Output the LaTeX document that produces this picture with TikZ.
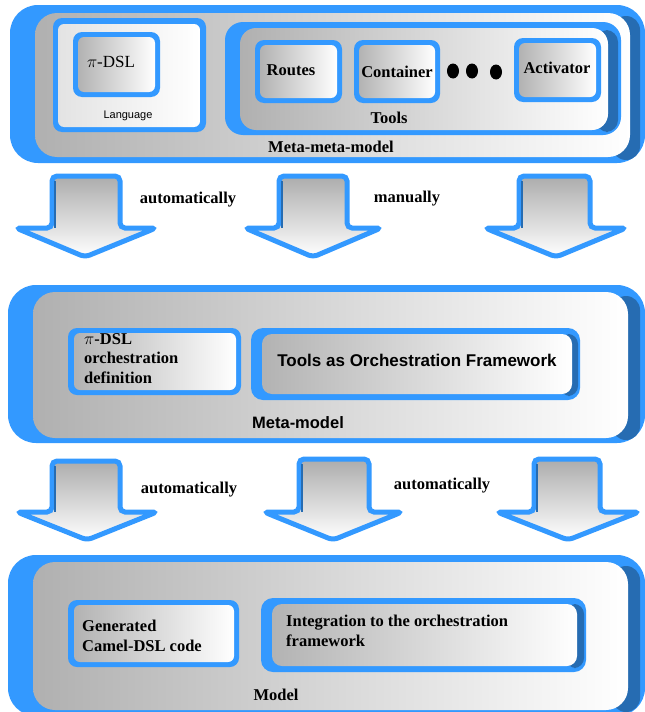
\documentclass[tikz,border=0pt]{standalone}
\usepackage{fontspec}
\setmainfont{Liberation Serif}
\newfontfamily\arialf{Liberation Sans}
\definecolor{myblue}{RGB}{51,153,255}
\definecolor{mydark}{RGB}{38,108,178}
\begin{document}
\begin{tikzpicture}[x=1pt,y=-1pt,
 bigouter/.style={fill=myblue, rounded corners=28pt},
 bigdark/.style={fill=mydark, rounded corners=14pt},
 biginner/.style={left color=gray!62, right color=white, rounded corners=22pt},
 boxouter/.style={fill=myblue, rounded corners=9pt},
 boxinner/.style={left color=gray!60, right color=white, rounded corners=6pt},
 lightinner/.style={left color=gray!22, right color=white, rounded corners=6pt},
 fatarrow/.style={draw=myblue, line width=5pt, rounded corners=5pt, top color=gray!65, bottom color=white},
 arrshade/.style={draw=mydark, line width=2pt},
 lbl/.style={font=\bfseries\fontsize{16.5}{18}\selectfont, inner sep=0pt},
 sanslbl/.style={font=\arialf\bfseries\fontsize{16.5}{18}\selectfont, inner sep=0pt},
 multi/.style={font=\bfseries\fontsize{16.5}{19.5}\selectfont, inner sep=0pt, align=left, anchor=north west},
 dot/.style={fill=black}
]
\useasboundingbox (0,0) rectangle (645,712);
\fill[white] (0,0) rectangle (645,712);

% ===== Box 1: Meta-meta-model =====
\path[bigouter] (10,5) rectangle (645,163);
\path[bigdark] (612,16) rectangle (640,160);
\path[biginner] (35,13) rectangle (630,157);
% Language
\path[boxouter] (53,18) rectangle (206,132);
\path[lightinner] (58,24) rectangle (200,127);
\path[boxouter] (73,32) rectangle (160,97);
\path[boxinner] (78,37) rectangle (155,92);
\node[inner sep=0pt, font=\fontsize{17}{19}\selectfont] (pidsl) at (111,62) {$\pi$-DSL};
\node[inner sep=0pt, font=\arialf\fontsize{11}{13}\selectfont] (lang) at (128,116) {Language};
% Tools
\path[boxouter, rounded corners=18pt] (225,22) rectangle (621,135);
\path[fill=mydark, rounded corners=12pt] (596,30) rectangle (618,132);
\path[biginner, rounded corners=16pt] (240,28) rectangle (608,130);
\path[boxouter] (255,40) rectangle (342,103);
\path[boxinner] (260,45) rectangle (337,98);
\path[boxouter] (354,40) rectangle (440,103);
\path[boxinner] (359,45) rectangle (435,98);
\path[boxouter] (514,38) rectangle (601,102);
\path[boxinner] (519,43) rectangle (596,97);
\node[lbl] (routes) at (291,70) {Routes};
\node[lbl] (container) at (397,72) {Container};
\node[lbl] (activator) at (557,68) {Activator};
\fill[dot] (453,71) ellipse (6pt and 7.5pt);
\fill[dot] (472,71) ellipse (6pt and 7.5pt);
\fill[dot] (496,72) ellipse (6pt and 7.5pt);
\node[lbl] (tools) at (389,118) {Tools};
\node[lbl] (mmm) at (331,147) {Meta-meta-model};

% ===== Arrows row 1 =====
\path[fatarrow] (52,228) -- (52,176) -- (120,176) -- (120,228) -- (156,228) -- (85,257) -- (16,228) -- cycle;
\draw[arrshade] (55,181) -- (55,228);
\path[fatarrow] (279,228) -- (279,176) -- (347,176) -- (347,228) -- (381,228) -- (313,257) -- (245,228) -- cycle;
\draw[arrshade] (282,181) -- (282,228);
\path[fatarrow] (519,228) -- (519,176) -- (590,176) -- (590,228) -- (626,228) -- (556,257) -- (485,228) -- cycle;
\draw[arrshade] (522,181) -- (522,228);
\node[lbl] (auto1) at (188,200) {automatically};
\node[lbl] (manual) at (407,199) {manually};

% ===== Box 2: Meta-model =====
\path[bigouter] (8,285) rectangle (645,443);
\path[bigdark] (612,296) rectangle (640,440);
\path[biginner] (33,292) rectangle (628,438);
\path[boxouter] (68,328) rectangle (241,395);
\path[boxinner] (74,333) rectangle (236,390);
\node[multi] (pidslorch) at (84,333) {$\pi$-DSL\\orchestration\\definition};
\path[boxouter, rounded corners=12pt] (251,328) rectangle (580,400);
\path[fill=mydark, rounded corners=10pt] (560,334) rectangle (578,396);
\path[boxinner, rounded corners=10pt] (262,334) rectangle (572,394);
\node[sanslbl, font=\arialf\bfseries\fontsize{17}{19}\selectfont] (toolsorch) at (417,360) {Tools as Orchestration Framework};
\node[sanslbl] (metamodel) at (298,423) {Meta-model};

% ===== Arrows row 2 =====
\path[fatarrow] (52,512) -- (52,461) -- (120,461) -- (120,512) -- (157,512) -- (87,540) -- (17,512) -- cycle;
\draw[arrshade] (55,466) -- (55,512);
\path[fatarrow] (299,512) -- (299,459) -- (369,459) -- (369,512) -- (402,512) -- (333,540) -- (264,512) -- cycle;
\draw[arrshade] (302,464) -- (302,512);
\path[fatarrow] (534,512) -- (534,459) -- (600,459) -- (600,512) -- (639,512) -- (568,540) -- (497,512) -- cycle;
\draw[arrshade] (537,464) -- (537,512);
\node[lbl] (auto2) at (189,490) {automatically};
\node[lbl] (auto3) at (442,486) {automatically};

% ===== Box 3: Model =====
\path[bigouter] (8,555) rectangle (645,716);
\path[bigdark] (612,566) rectangle (640,712);
\path[biginner] (33,562) rectangle (628,710);
\path[boxouter] (68,600) rectangle (239,667);
\path[boxinner] (74,605) rectangle (234,662);
\node[multi] (gen) at (82,620) {Generated\\Camel-DSL code};
\path[boxouter, rounded corners=12pt] (261,598) rectangle (586,672);
\path[fill=mydark, rounded corners=10pt] (566,604) rectangle (584,668);
\path[boxinner, rounded corners=10pt] (272,604) rectangle (577,666);
\node[multi] (integ) at (286,615) {Integration to the orchestration\\framework};
\node[lbl] (model) at (276,695) {Model};
\end{tikzpicture}
\end{document}
